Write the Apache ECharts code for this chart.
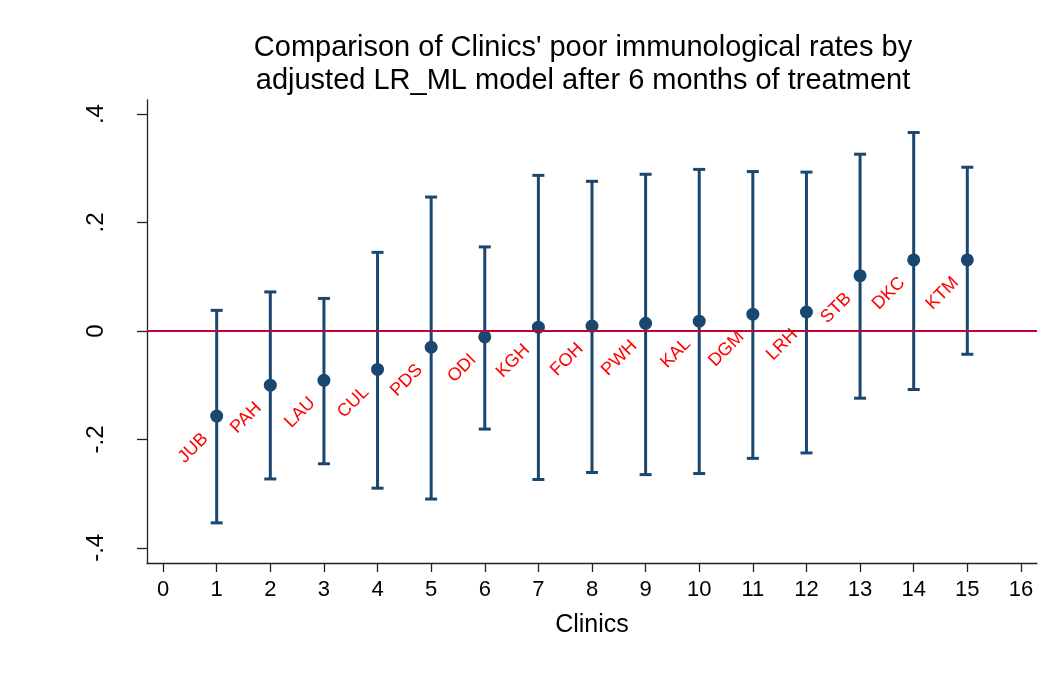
<!DOCTYPE html>
<html>
<head>
<meta charset="utf-8">
<script src="https://cdn.jsdelivr.net/npm/echarts@6/dist/echarts.min.js"></script>
<style>
html,body{margin:0;padding:0;background:#fff;}
#chart{width:1052px;height:676px;}
</style>
</head>
<body>
<div id="chart"></div>
<script>
// ---- data ----
var clinics = ['JUB','PAH','LAU','CUL','PDS','ODI','KGH','FOH','PWH','KAL','DGM','LRH','STB','DKC','KTM'];
var clinicIndex = [1,2,3,4,5,6,7,8,9,10,11,12,13,14,15];
var estimate = [-0.157,-0.100,-0.091,-0.071,-0.030,-0.011,0.007,0.009,0.014,0.018,0.031,0.035,0.102,0.131,0.131];
var lower = [-0.354,-0.273,-0.245,-0.290,-0.310,-0.181,-0.274,-0.261,-0.265,-0.263,-0.235,-0.225,-0.124,-0.108,-0.043];
var upper = [0.038,0.072,0.060,0.145,0.247,0.155,0.287,0.276,0.289,0.298,0.294,0.293,0.326,0.366,0.302];
var xTicks = [0,1,2,3,4,5,6,7,8,9,10,11,12,13,14,15,16];
var yTicks = [-0.4,-0.2,0,0.2,0.4];
var yTickLabels = ['-.4','-.2','0','.2','.4'];

var navy = '#1a476f';
var font = 'Liberation Sans, Arial, sans-serif';

var pointData = clinicIndex.map(function(x,i){ return [x, estimate[i]]; });
var barData = clinicIndex.map(function(x,i){ return [x, lower[i], upper[i]]; });

var chart = echarts.init(document.getElementById('chart'), null, {renderer:'canvas'});
chart.setOption({
  animation:false,
  backgroundColor:'#ffffff',
  title:{
    text:"Comparison of Clinics' poor immunological rates by\nadjusted LR_ML model after 6 months of treatment",
    left:583, top:31, textAlign:'center', padding:0,
    textStyle:{fontFamily:font, fontSize:29, fontWeight:'normal', color:'#000', lineHeight:33}
  },
  grid:{left:147, top:100, right:15, bottom:113, containLabel:false},
  xAxis:{
    type:'value', min:-0.3, max:16.3,
    name:'Clinics', nameLocation:'middle', nameGap:50,
    nameTextStyle:{fontFamily:font, fontSize:25, color:'#000'},
    axisLine:{show:true, onZero:false, lineStyle:{color:'#222', width:1.3}},
    axisTick:{show:true, length:9, customValues:xTicks, lineStyle:{color:'#222', width:1.3}},
    axisLabel:{customValues:xTicks, margin:16, fontFamily:font, fontSize:22, color:'#000'},
    splitLine:{show:false}
  },
  yAxis:{
    type:'value', min:-0.428, max:0.426,
    axisLine:{show:true, onZero:false, lineStyle:{color:'#222', width:1.3}},
    axisTick:{show:true, length:10, customValues:yTicks, lineStyle:{color:'#222', width:1.3}},
    axisLabel:{customValues:yTicks, rotate:90, margin:39, fontFamily:font, fontSize:24, color:'#000',
      formatter:function(v){ var i = yTicks.indexOf(Math.round(v*10)/10); return i>=0 ? yTickLabels[i] : ''; }},
    splitLine:{show:false}
  },
  series:[
    {
      type:'line', data:[], z:1,
      markLine:{silent:true, symbol:['none','none'], label:{show:false},
        lineStyle:{color:'#c10534', width:2, type:'solid'},
        data:[{yAxis:0}]}
    },
    {
      type:'custom', z:2,
      data:barData,
      renderItem:function(params, api){
        var x = api.value(0);
        var lo = api.coord([x, api.value(1)]);
        var hi = api.coord([x, api.value(2)]);
        var half = 6;
        var st = {stroke:navy, lineWidth:3, fill:null};
        return {type:'group', children:[
          {type:'line', shape:{x1:lo[0], y1:lo[1], x2:hi[0], y2:hi[1]}, style:st},
          {type:'line', shape:{x1:lo[0]-half, y1:lo[1], x2:lo[0]+half, y2:lo[1]}, style:st},
          {type:'line', shape:{x1:hi[0]-half, y1:hi[1], x2:hi[0]+half, y2:hi[1]}, style:st}
        ]};
      }
    },
    {
      type:'scatter', z:3,
      data:pointData,
      symbol:'circle', symbolSize:13,
      itemStyle:{color:navy, opacity:1},
      label:{
        show:true, position:['50%','50%'], align:'right', verticalAlign:'middle',
        rotate:45, offset:[-22.3, 6.0],
        fontFamily:font, fontSize:18, color:'#ff0000',
        formatter:function(p){ return clinics[p.dataIndex]; }
      }
    }
  ]
});
</script>
</body>
</html>
